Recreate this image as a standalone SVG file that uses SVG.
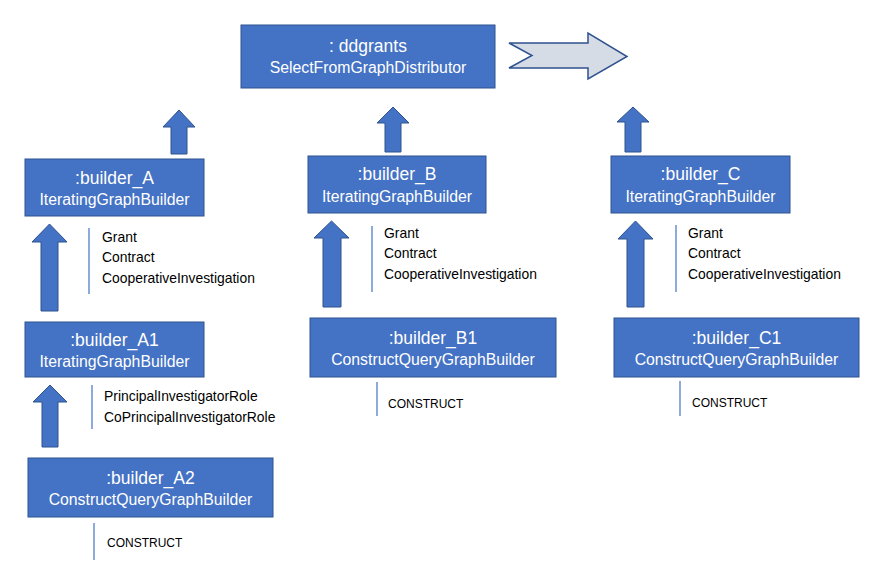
<svg xmlns="http://www.w3.org/2000/svg" width="881" height="561" viewBox="0 0 881 561">
<style>
.box{fill:#4472C4;stroke:#2F528F;stroke-width:1}
.t1{font-family:"Liberation Sans",Arial,sans-serif;font-size:17.5px;fill:#fff;text-anchor:middle}
.t2{font-family:"Liberation Sans",Arial,sans-serif;font-size:15.8px;fill:#fff;text-anchor:middle}
.lbl{font-family:"Liberation Sans",Arial,sans-serif;font-size:13.9px;fill:#000}
.cst{font-family:"Liberation Sans",Arial,sans-serif;font-size:12px;fill:#000}
.up{fill:#4472C4;stroke:#2F528F;stroke-width:1}
.bar{stroke:#4472C4;stroke-width:1.2;fill:none}
</style>
<rect width="881" height="561" fill="#fff"/>
<g id="connectors">
  <polygon class="up" points="179,110 195,127 187,127 187,154 171,154 171,127 163,127"/>
  <polygon class="up" points="393,107 409,123 401,123 401,152 385,152 385,123 377,123"/>
  <polygon class="up" points="633,107 649,122 641,122 641,152 625,152 625,122 617,122"/>
  <polygon class="up" points="49.5,224 67,242 58,242 58,311 41,311 41,242 32,242"/>
  <polygon class="up" points="331.5,221 349,238 341,238 341,307 323,307 323,238 314,238"/>
  <polygon class="up" points="635.5,221 653,239 644,239 644,307 627,307 627,239 618,239"/>
  <polygon class="up" points="50,385 67,402 58,402 58,447 42,447 42,402 33,402"/>
  <polygon id="flow-arrow" points="509,43 588,43 588,33 627,56.5 588,79 588,68 509,68 532,55.5" fill="#D6DCE5" stroke="#2F528F" stroke-width="1.5"/>
</g>
<g id="label-A">
  <line class="bar" x1="89" y1="228" x2="89" y2="294"/>
  <text class="lbl" x="102" y="242">Grant</text>
  <text class="lbl" x="102" y="262">Contract</text>
  <text class="lbl" x="102" y="283">CooperativeInvestigation</text>
</g>
<g id="label-A1">
  <line class="bar" x1="92" y1="385" x2="92" y2="429"/>
  <text class="lbl" x="104" y="401">PrincipalInvestigatorRole</text>
  <text class="lbl" x="104" y="422">CoPrincipalInvestigatorRole</text>
</g>
<g id="label-A2">
  <line class="bar" x1="94" y1="523" x2="94" y2="560"/>
  <text class="cst" x="107" y="547">CONSTRUCT</text>
</g>
<g id="label-B">
  <line class="bar" x1="372" y1="226" x2="372" y2="292"/>
  <text class="lbl" x="384" y="238">Grant</text>
  <text class="lbl" x="384" y="258">Contract</text>
  <text class="lbl" x="384" y="279">CooperativeInvestigation</text>
</g>
<g id="label-B1">
  <line class="bar" x1="377" y1="382" x2="377" y2="416"/>
  <text class="cst" x="388" y="408">CONSTRUCT</text>
</g>
<g id="label-C">
  <line class="bar" x1="676" y1="225" x2="676" y2="292"/>
  <text class="lbl" x="688" y="238">Grant</text>
  <text class="lbl" x="688" y="258">Contract</text>
  <text class="lbl" x="688" y="279">CooperativeInvestigation</text>
</g>
<g id="label-C1">
  <line class="bar" x1="680" y1="381" x2="680" y2="416"/>
  <text class="cst" x="692" y="407">CONSTRUCT</text>
</g>
<g id="ddgrants">
  <rect class="box" x="241" y="25" width="254" height="63"/>
  <text class="t1" x="368" y="52">: ddgrants</text>
  <text class="t2" x="368" y="73">SelectFromGraphDistributor</text>
</g>
<g id="builder_A">
  <rect class="box" x="25" y="159" width="179" height="57"/>
  <text class="t1" x="114.5" y="184">:builder_A</text>
  <text class="t2" x="114.5" y="205">IteratingGraphBuilder</text>
</g>
<g id="builder_A1">
  <rect class="box" x="25" y="322" width="179" height="55"/>
  <text class="t1" x="114.5" y="345.5">:builder_A1</text>
  <text class="t2" x="114.5" y="366.5">IteratingGraphBuilder</text>
</g>
<g id="builder_A2">
  <rect class="box" x="28" y="458" width="245" height="59"/>
  <text class="t1" x="150.5" y="483.5">:builder_A2</text>
  <text class="t2" x="150.5" y="504.5">ConstructQueryGraphBuilder</text>
</g>
<g id="builder_B">
  <rect class="box" x="308" y="156" width="178" height="57"/>
  <text class="t1" x="397" y="180">:builder_B</text>
  <text class="t2" x="397" y="202">IteratingGraphBuilder</text>
</g>
<g id="builder_B1">
  <rect class="box" x="310" y="318" width="246" height="59"/>
  <text class="t1" x="433" y="343.5">:builder_B1</text>
  <text class="t2" x="433" y="364.5">ConstructQueryGraphBuilder</text>
</g>
<g id="builder_C">
  <rect class="box" x="611" y="156" width="179" height="57"/>
  <text class="t1" x="700.5" y="180">:builder_C</text>
  <text class="t2" x="700.5" y="202">IteratingGraphBuilder</text>
</g>
<g id="builder_C1">
  <rect class="box" x="614" y="318" width="245" height="59"/>
  <text class="t1" x="736.5" y="343.5">:builder_C1</text>
  <text class="t2" x="736.5" y="364.5">ConstructQueryGraphBuilder</text>
</g>
</svg>
